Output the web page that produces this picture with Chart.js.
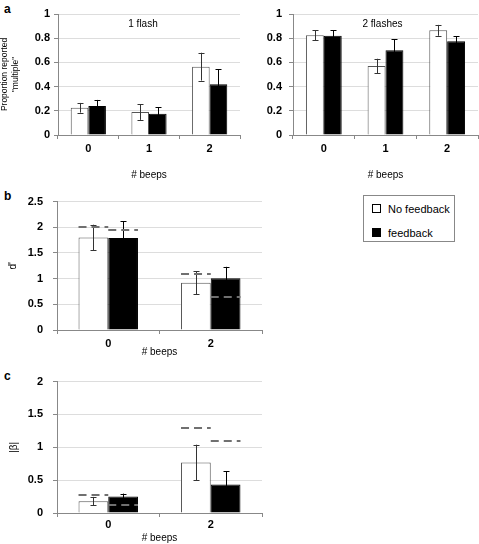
<!DOCTYPE html>
<html>
<head>
<meta charset="utf-8">
<script src="https://cdn.jsdelivr.net/npm/chart.js@4"></script>
<style>
  body { margin: 0; background: #fff; width: 479px; height: 544px; position: relative; overflow: hidden;
         font-family: "Liberation Sans", Arial, sans-serif; }
  canvas { position: absolute; }
  .tag { position: absolute; font-weight: bold; font-size: 12px; line-height: 12px; }
  #legend { position: absolute; left: 363px; top: 195px; width: 92px; height: 47px;
            border: 1px solid #888; box-sizing: border-box; font-size: 11px; }
  .item { position: absolute; left: 8px; height: 12px; line-height: 12px; }
  .swatch { position: absolute; left: 0; top: 1px; width: 9px; height: 9px; box-sizing: border-box; border: 1px solid #000; }
  .item span.lbl { position: absolute; left: 16px; top: 0; white-space: nowrap; }
</style>
</head>
<body>
<div class="tag" style="left:4px;top:3px">a</div>
<div class="tag" style="left:4px;top:190px">b</div>
<div class="tag" style="left:4px;top:370px">c</div>

<canvas id="flash1" width="241" height="185" style="left:0;top:0"></canvas>
<canvas id="flash2" width="238" height="185" style="left:241px;top:0"></canvas>
<canvas id="dprime" width="263" height="173" style="left:0;top:185px"></canvas>
<canvas id="beta" width="263" height="179" style="left:0;top:365px"></canvas>

<div id="legend">
  <div class="item" style="top:7px"><div class="swatch" style="background:#fff"></div><span class="lbl" id="lg0"></span></div>
  <div class="item" style="top:31px"><div class="swatch" style="background:#000"></div><span class="lbl" id="lg1"></span></div>
</div>

<script>
const beeps3 = ['0', '1', '2']
const beeps2 = ['0', '2']
const seriesNames = ['No feedback', 'feedback']

// a: proportion reported "multiple"
const flash1NoFb = [0.225, 0.19, 0.565]
const flash1NoFbErr = [0.04, 0.065, 0.115]
const flash1Fb = [0.24, 0.175, 0.42]
const flash1FbErr = [0.05, 0.055, 0.125]

const flash2NoFb = [0.825, 0.57, 0.865]
const flash2NoFbErr = [0.04, 0.06, 0.045]
const flash2Fb = [0.82, 0.70, 0.775]
const flash2FbErr = [0.045, 0.09, 0.04]

// b: d'
const dprimeNoFb = [1.8, 0.92]
const dprimeNoFbErr = [0.25, 0.22]
const dprimeFb = [1.79, 1.01]
const dprimeFbErr = [0.33, 0.22]
const dprimeNoFbRef = [2.0, 1.09]
const dprimeFbRef = [1.94, 0.645]

// c: |beta|
const betaNoFb = [0.18, 0.77]
const betaNoFbErr = [0.065, 0.27]
const betaFb = [0.25, 0.435]
const betaFbErr = [0.045, 0.2]
const betaNoFbRef = [0.27, 1.29]
const betaFbRef = [0.115, 1.10]

document.getElementById('lg0').textContent = seriesNames[0]
document.getElementById('lg1').textContent = seriesNames[1]

const FONT = '"Liberation Sans", Arial, sans-serif'

// error bars, dashed reference lines and the in-panel note
const extras = {
  id: 'extras',
  afterDatasetsDraw (chart, args, opts) {
    const ctx = chart.ctx
    const yScale = chart.scales.y
    ctx.save()
    chart.data.datasets.forEach((ds, i) => {
      const meta = chart.getDatasetMeta(i)
      meta.data.forEach((bar, j) => {
        if (ds.err) {
          const top = yScale.getPixelForValue(ds.data[j] + ds.err[j])
          const bot = yScale.getPixelForValue(ds.data[j] - ds.err[j])
          const x = Math.round(bar.x) + 0.5
          ctx.strokeStyle = ds.errColor
          ctx.lineWidth = 1
          ctx.setLineDash([])
          ctx.beginPath()
          ctx.moveTo(x, top); ctx.lineTo(x, bot)
          ctx.moveTo(x - 3, Math.round(top) + 0.5); ctx.lineTo(x + 3, Math.round(top) + 0.5)
          ctx.moveTo(x - 3, Math.round(bot) + 0.5); ctx.lineTo(x + 3, Math.round(bot) + 0.5)
          ctx.stroke()
        }
      })
    })
    chart.data.datasets.forEach((ds, i) => {
      if (!ds.ref) return
      const meta = chart.getDatasetMeta(i)
      meta.data.forEach((bar, j) => {
        const y = Math.round(yScale.getPixelForValue(ds.ref[j]))
        ctx.strokeStyle = '#707070'
        ctx.lineWidth = 2
        ctx.setLineDash([8, 5])
        ctx.beginPath()
        ctx.moveTo(bar.x - bar.width / 2, y)
        ctx.lineTo(bar.x + bar.width / 2, y)
        ctx.stroke()
      })
    })
    if (opts.note) {
      const a = chart.chartArea
      ctx.setLineDash([])
      ctx.fillStyle = '#000'
      ctx.font = '10px ' + FONT
      ctx.textAlign = 'center'
      ctx.textBaseline = 'middle'
      ctx.fillText(opts.note, (a.left + a.right) / 2 + (opts.dx || 0), a.top + 10)
    }
    ctx.restore()
  }
}

function makeChart (id, cfg) {
  const datasets = [
    { label: seriesNames[0], data: cfg.noFb, err: cfg.noFbErr, ref: cfg.noFbRef, errColor: '#333',
      backgroundColor: '#fff', borderColor: '#555', borderWidth: 1 },
    { label: seriesNames[1], data: cfg.fb, err: cfg.fbErr, ref: cfg.fbRef, errColor: '#000',
      backgroundColor: '#000', borderColor: '#000', borderWidth: 1 }
  ]
  return new Chart(document.getElementById(id), {
    type: 'bar',
    data: { labels: cfg.labels, datasets: datasets },
    plugins: [extras],
    options: {
      responsive: false,
      animation: false,
      events: [],
      datasets: { bar: { categoryPercentage: 0.58, barPercentage: 1 } },
      layout: { padding: { top: cfg.top, right: 1, left: 0, bottom: 0 } },
      plugins: {
        legend: { display: false },
        tooltip: { enabled: false },
        extras: { note: cfg.note, dx: cfg.noteDx }
      },
      scales: {
        x: {
          afterFit: s => { s.height = cfg.xHeight },
          grid: { drawOnChartArea: false, drawTicks: true, tickLength: 4, color: '#888', offset: true },
          border: { color: '#888' },
          ticks: { color: '#000', font: { family: FONT, size: 11, weight: 'bold' }, padding: cfg.xPad },
          title: { display: true, text: '# beeps', color: '#000', font: { family: FONT, size: 10 }, padding: { top: 0, bottom: cfg.titlePad } }
        },
        y: {
          min: 0,
          max: cfg.max,
          afterFit: s => { s.width = cfg.yWidth },
          ticks: {
            stepSize: cfg.step,
            color: '#000',
            font: { family: FONT, size: 11, weight: 'bold' },
            padding: cfg.yPad,
            callback: v => String(Number(v.toFixed(2)))
          },
          grid: { color: '#ddd', tickColor: '#888', tickLength: 4 },
          border: { color: '#888' },
          title: { display: !!cfg.yTitle, text: cfg.yTitle, color: '#000',
                   font: { family: cfg.yTitleFont || FONT, size: cfg.yTitleSize || 10, lineHeight: 1.2 },
                   padding: { top: cfg.yTitlePad, bottom: 0 } }
        }
      }
    }
  })
}

makeChart('flash1', {
  labels: beeps3, noFb: flash1NoFb, noFbErr: flash1NoFbErr, fb: flash1Fb, fbErr: flash1FbErr,
  max: 1, step: 0.2, top: 14, xHeight: 50, xPad: 3, titlePad: 4, yWidth: 58, yPad: 4,
  yTitle: ['Proportion reported', '"multiple"'], yTitleFont: '"Liberation Sans Narrow", "Liberation Sans", Arial, sans-serif',
  yTitleSize: 8.5, yTitlePad: 0, note: '1 flash', noteDx: -6
})
makeChart('flash2', {
  labels: beeps3, noFb: flash2NoFb, noFbErr: flash2NoFbErr, fb: flash2Fb, fbErr: flash2FbErr,
  max: 1, step: 0.2, top: 14, xHeight: 50, xPad: 3, titlePad: 4, yWidth: 52, yPad: 7,
  yTitle: '', yTitlePad: 0, note: '2 flashes', noteDx: -3
})
makeChart('dprime', {
  labels: beeps2, noFb: dprimeNoFb, noFbErr: dprimeNoFbErr, fb: dprimeFb, fbErr: dprimeFbErr,
  noFbRef: dprimeNoFbRef, fbRef: dprimeFbRef,
  max: 2.5, step: 0.5, top: 12, xHeight: 28, xPad: 3, titlePad: 0, yWidth: 57, yPad: 10,
  yTitle: "d'", yTitlePad: 7
})
makeChart('beta', {
  labels: beeps2, noFb: betaNoFb, noFbErr: betaNoFbErr, fb: betaFb, fbErr: betaFbErr,
  noFbRef: betaNoFbRef, fbRef: betaFbRef,
  max: 2, step: 0.5, top: 16, xHeight: 31, xPad: 1, titlePad: 0, yWidth: 57, yPad: 10,
  yTitle: '|β|', yTitlePad: 8
})
</script>
</body>
</html>
